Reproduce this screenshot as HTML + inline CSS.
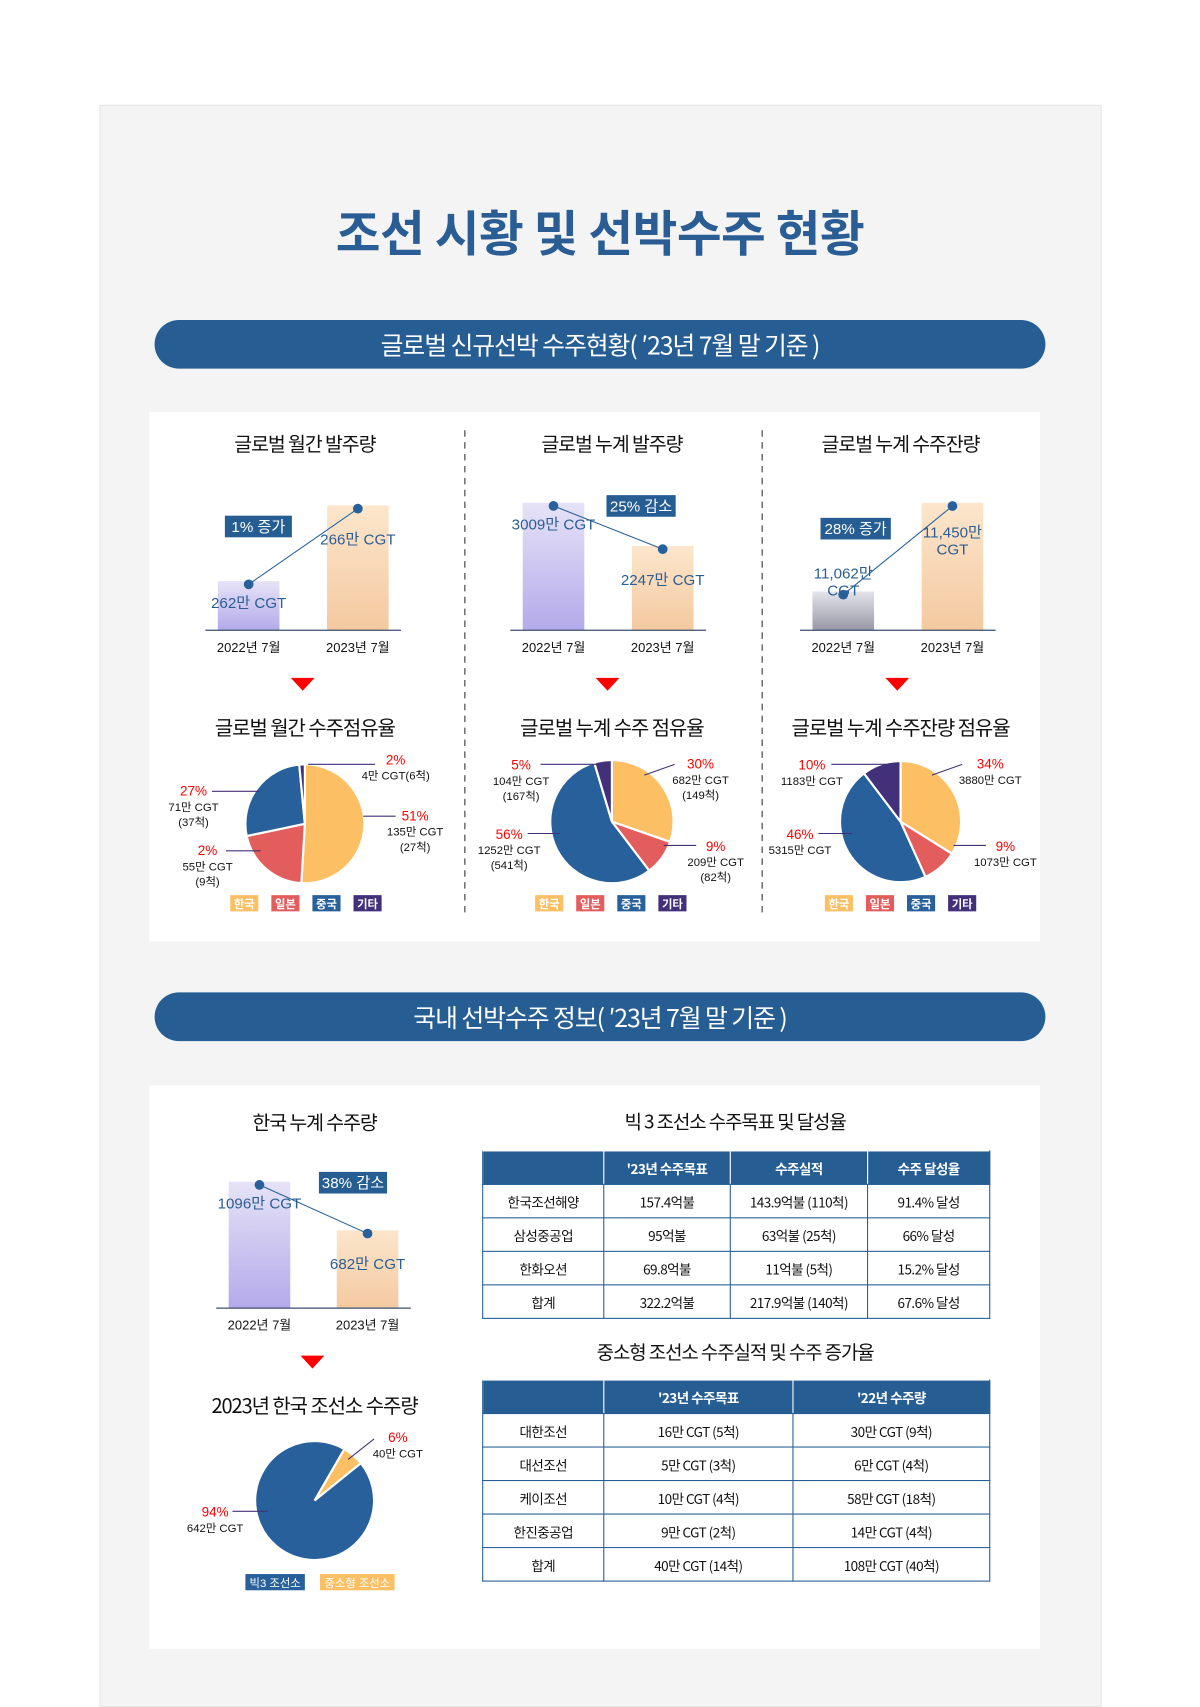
<!DOCTYPE html>
<html><head><meta charset="utf-8">
<style>
html,body{margin:0;padding:0;background:#fff;}
body{width:1200px;height:1695px;overflow:hidden;font-family:"Liberation Sans","Noto Sans CJK KR",sans-serif;}
#wrap{position:absolute;left:0;top:0;width:1110px;height:1568px;transform:scale(1.081081);transform-origin:0 0;}
.abs{position:absolute;}
.panel{left:92px;top:97px;width:925px;height:1480px;background:#f4f4f4;border:1px solid #e6e6e6;}
.title{left:0;width:1110px;top:180px;text-align:center;font-size:45px;font-weight:bold;color:#2a5d93;letter-spacing:-0.5px;font-family:"Noto Sans CJK KR",sans-serif;}
.banner{background:#265e94;border-radius:23px;color:#fff;text-align:center;font-size:23px;line-height:45px;height:45px;letter-spacing:-1px;font-family:"Noto Sans CJK KR",sans-serif;}
.card{background:#fff;}
.h{font-family:"Noto Sans CJK KR",sans-serif;color:#111;text-align:center;letter-spacing:-1px;}
table{border-collapse:collapse;font-family:"Noto Sans CJK KR",sans-serif;font-size:12.5px;letter-spacing:-0.5px;color:#111;table-layout:fixed;}
td,th{border:1px solid #265e94;text-align:center;padding:0;height:30px;}
th{background:#265e94;color:#fff;font-weight:bold;border-color:#fff #fff #265e94 #fff;}
th:first-child{border-left-color:#265e94;}
th:last-child{border-right-color:#265e94;}
svg text{font-family:"Liberation Sans","Noto Sans CJK KR",sans-serif;}
</style></head>
<body>
<div id="wrap">
<div class="abs panel"></div>
<div class="abs title">조선 시황 및 선박수주 현황</div>
<div class="abs banner" style="left:143px;top:296px;width:824px;">글로벌 신규선박 수주현황( ′23년 7월 말 기준 )</div>
<div class="abs card" style="left:138px;top:381px;width:824px;height:490px;"></div>
<div class="abs banner" style="left:143px;top:918px;width:824px;">국내 선박수주 정보( ′23년 7월 말 기준 )</div>
<div class="abs card" style="left:138px;top:1004px;width:824px;height:521px;"></div>

<div class="abs h" style="left:182px;width:200px;top:397px;font-size:18px;">글로벌 월간 발주량</div>
<div class="abs h" style="left:466px;width:200px;top:397px;font-size:18px;">글로벌 누계 발주량</div>
<div class="abs h" style="left:733px;width:200px;top:397px;font-size:18px;">글로벌 누계 수주잔량</div>
<div class="abs h" style="left:162px;width:240px;top:660px;font-size:18.5px;">글로벌 월간 수주점유율</div>
<div class="abs h" style="left:446px;width:240px;top:660px;font-size:18.5px;">글로벌 누계 수주 점유율</div>
<div class="abs h" style="left:703px;width:260px;top:660px;font-size:18.5px;">글로벌 누계 수주잔량 점유율</div>
<div class="abs h" style="left:191px;width:200px;top:1025px;font-size:18px;">한국 누계 수주량</div>
<div class="abs h" style="left:161px;width:260px;top:1287px;font-size:18.5px;">2023년 한국 조선소 수주량</div>
<div class="abs h" style="left:530px;width:300px;top:1025px;font-size:17.5px;">빅 3 조선소 수주목표 및 달성율</div>
<div class="abs h" style="left:500px;width:360px;top:1238px;font-size:17.5px;">중소형 조선소 수주실적 및 수주 증가율</div>

<table class="abs" style="left:446px;top:1064px;width:469px;">
<colgroup><col style="width:112px"><col style="width:117px"><col style="width:127px"><col style="width:113px"></colgroup>
<tr><th></th><th>'23년 수주목표</th><th>수주실적</th><th>수주 달성율</th></tr>
<tr><td>한국조선해양</td><td>157.4억불</td><td>143.9억불 (110척)</td><td>91.4% 달성</td></tr>
<tr><td>삼성중공업</td><td>95억불</td><td>63억불 (25척)</td><td>66% 달성</td></tr>
<tr><td>한화오션</td><td>69.8억불</td><td>11억불 (5척)</td><td>15.2% 달성</td></tr>
<tr><td>합계</td><td>322.2억불</td><td>217.9억불 (140척)</td><td>67.6% 달성</td></tr>
</table>
<table class="abs" style="left:446px;top:1276px;width:469px;">
<colgroup><col style="width:112px"><col style="width:175px"><col style="width:182px"></colgroup>
<tr><th></th><th>'23년 수주목표</th><th>'22년 수주량</th></tr>
<tr><td>대한조선</td><td>16만 CGT (5척)</td><td>30만 CGT (9척)</td></tr>
<tr><td>대선조선</td><td>5만 CGT (3척)</td><td>6만 CGT (4척)</td></tr>
<tr><td>케이조선</td><td>10만 CGT (4척)</td><td>58만 CGT (18척)</td></tr>
<tr><td>한진중공업</td><td>9만 CGT (2척)</td><td>14만 CGT (4척)</td></tr>
<tr><td>합계</td><td>40만 CGT (14척)</td><td>108만 CGT (40척)</td></tr>
</table>

<svg id="chart" class="abs" style="left:0;top:0" width="1110" height="1568">
<defs>
<linearGradient id="gP" x1="0" y1="0" x2="0" y2="1"><stop offset="0" stop-color="#e6e3f7"/><stop offset="1" stop-color="#b4aaea"/></linearGradient>
<linearGradient id="gO" x1="0" y1="0" x2="0" y2="1"><stop offset="0" stop-color="#fce6cc"/><stop offset="1" stop-color="#f4c9a0"/></linearGradient>
<linearGradient id="gG" x1="0" y1="0" x2="0" y2="1"><stop offset="0" stop-color="#e4e4ec"/><stop offset="1" stop-color="#9898a6"/></linearGradient>
</defs>
<line x1="430" y1="398" x2="430" y2="848" stroke="#333" stroke-dasharray="6,5"/>
<line x1="705" y1="398" x2="705" y2="848" stroke="#333" stroke-dasharray="6,5"/>
<g id="marks"></g>
</svg>
</div>
<script>
// bar chart data
const barCats = ["2022년 7월","2023년 7월"];
const monthlyOrders = [262, 266];
const cumulativeOrders = [3009, 2247];
const backlogOrders = [11062, 11450];
const koreaOrders = [1096, 682];
const monthlyLabels = ["262만 CGT","266만 CGT"];
const cumulativeLabels = ["3009만 CGT","2247만 CGT"];
const backlogLabels = ["11,062만|CGT","11,450만|CGT"];
const koreaLabels = ["1096만 CGT","682만 CGT"];
const badgeTexts = ["1% 증가","25% 감소","28% 증가","38% 감소"];
// pie data
const pieCats = ["한국","일본","중국","기타"];
const monthlyShare = [135, 55, 71, 4];
const cumulativeShare = [682, 209, 1252, 104];
const backlogShare = [3880, 1073, 5315, 1183];
const koreaCats = ["중소형 조선소","빅3 조선소"];
const koreaShare = [40, 642];

const NS="http://www.w3.org/2000/svg";
const G=document.getElementById('marks');
function el(t,a,txt){const e=document.createElementNS(NS,t);for(const k in a)e.setAttribute(k,a[k]);if(txt!=null)e.textContent=txt;G.appendChild(e);return e;}
const pieColors={"한국":"#fdbf63","일본":"#e35d5d","중국":"#27609a","기타":"#43307a","중소형 조선소":"#fdbf63","빅3 조선소":"#27609a"};

function barChart(o){
  const y=v=>o.base-(v-o.lo)*o.k;
  const fills=[o.f1,"url(#gO)"];
  const pts=[];
  o.vals.forEach((v,i)=>{
    const cx=o.cx[i];
    const r=el('rect',{x:cx-28.5,y:y(v),width:57,height:o.base-y(v),fill:fills[i]});
    
    
    pts.push([cx,y(v)+3]);
    const t=el('text',{x:cx,y:o.base+20,'text-anchor':'middle','font-size':12,fill:'#111'},barCats[i]);
    
    
  });
  const ax=el('line',{x1:o.cx[0]-40,x2:o.cx[1]+40,y1:o.base,y2:o.base,stroke:'#3c4f6e','stroke-width':1.2});
  
  
  const ln=el('line',{x1:pts[0][0],y1:pts[0][1],x2:pts[1][0],y2:pts[1][1],stroke:'#27609a','stroke-width':1});
  
  
  pts.forEach(p=>{const c=el('circle',{cx:p[0],cy:p[1],r:4.5,fill:'#27609a'});
    
    });
  o.labels.forEach((s,i)=>{
    const parts=s.split('|');
    const ly = parts.length>1 ? y(o.vals[i])+(i==0?-12:32) : (y(o.vals[i])+(i==0?25:36));
    parts.forEach((p,j)=>{const t=el('text',{x:o.cx[i],y:ly+j*16,'text-anchor':'middle','font-size':14,fill:'#2a5d93'},p);
      
      });
  });
  const b=el('rect',{x:o.badge[0],y:o.badge[1],width:o.badge[2],height:20,fill:'#265e94'});
  
  
  const bt=el('text',{x:o.badge[0]+o.badge[2]/2,y:o.badge[1]+15,'text-anchor':'middle','font-size':14,fill:'#fff'},o.btext);
  
  
}
barChart({name:'monthly',vals:monthlyOrders,labels:monthlyLabels,cx:[230,331],base:583,lo:259.4,k:17.5,f1:'url(#gP)',badge:[208,477,62],btext:badgeTexts[0]});
barChart({name:'cumulative',vals:cumulativeOrders,labels:cumulativeLabels,cx:[512,613],base:583,lo:761,k:0.0525,f1:'url(#gP)',badge:[561,458,64],btext:badgeTexts[1]});
barChart({name:'backlog',vals:backlogOrders,labels:backlogLabels,cx:[780,881],base:583,lo:10892,k:0.2113,f1:'url(#gG)',badge:[759,479,65],btext:badgeTexts[2]});
barChart({name:'korea',vals:koreaOrders,labels:koreaLabels,cx:[240,340],base:1210,lo:20,k:0.1087,f1:'url(#gP)',badge:[295,1084,63],btext:badgeTexts[3]});

function pie(o){
  const tot=o.vals.reduce((a,b)=>a+b,0);
  let a=o.start*Math.PI/180;
  o.vals.forEach((v,i)=>{
    const a2=a+v/tot*2*Math.PI;
    const x1=o.cx+o.r*Math.sin(a),y1=o.cy-o.r*Math.cos(a);
    const x2=o.cx+o.r*Math.sin(a2),y2=o.cy-o.r*Math.cos(a2);
    const large=(a2-a)>Math.PI?1:0;
    const p=el('path',{d:`M${o.cx},${o.cy}L${x1},${y1}A${o.r},${o.r} 0 ${large} 1 ${x2},${y2}Z`,fill:pieColors[o.cats[i]],stroke:'#fff','stroke-width':2});
    
    
    a=a2;
  });
}
pie({name:'monthly',cats:pieCats,vals:monthlyShare,cx:282,cy:762,r:55,start:0});
pie({name:'cumulative',cats:pieCats,vals:cumulativeShare,cx:566,cy:760,r:57,start:0});
pie({name:'backlog',cats:pieCats,vals:backlogShare,cx:833,cy:760,r:56,start:0});
pie({name:'korea',cats:koreaCats,vals:koreaShare,cx:291,cy:1388,r:55,start:30});

// pie annotations
const ann=[
 [366,707,"2%","4만 CGT(6척)",null,285,707,347,707],
 [179,736,"27%","71만 CGT","(37척)",196,732,240,732],
 [384,759,"51%","135만 CGT","(27척)",336,755,366,755],
 [192,791,"2%","55만 CGT","(9척)",209,787,241,787],
 [482,712,"5%","104만 CGT","(167척)",500,707,556,707],
 [648,711,"30%","682만 CGT","(149척)",624,707,596,717],
 [471,776,"56%","1252만 CGT","(541척)",488,771,518,771],
 [662,787,"9%","209만 CGT","(82척)",614,782,644,782],
 [751,712,"10%","1183만 CGT",null,769,707,826,707],
 [916,711,"34%","3880만 CGT",null,890,707,862,717],
 [740,776,"46%","5315만 CGT",null,757,771,788,771],
 [930,787,"9%","1073만 CGT",null,882,782,912,782],
 [368,1334,"6%","40만 CGT",null,346,1331,322,1350],
 [199,1403,"94%","642만 CGT",null,215,1398,248,1398]];
ann.forEach(d=>{
  const l=el('line',{x1:d[5],y1:d[6],x2:d[7],y2:d[8],stroke:'#43307a','stroke-width':1});
  
  
  const t=el('text',{x:d[0],y:d[1],'text-anchor':'middle','font-size':12.5,fill:'#f00'},d[2]);
  
  
  [d[3],d[4]].forEach((s,j)=>{if(!s)return;
    const u=el('text',{x:d[0],y:d[1]+14+j*14,'text-anchor':'middle','font-size':10.5,fill:'#111'},s);
    
    });
});
// legends
function legend(x0){
  pieCats.forEach((c,i)=>{
    const x=x0+i*38;
    const r=el('rect',{x:x,y:828,width:26,height:15,fill:pieColors[c]});
    
    
    const t=el('text',{x:x+13,y:840,'text-anchor':'middle','font-size':10.5,fill:'#fff','font-weight':'bold'},c);
    
    
  });
}
legend(213);legend(495);legend(763);
[[227,55,"빅3 조선소"],[296,69,"중소형 조선소"]].forEach((d,i)=>{
  const r=el('rect',{x:d[0],y:1456,width:d[1],height:15,fill:pieColors[koreaCats[1-i]]});
  
  
  const t=el('text',{x:d[0]+d[1]/2,y:1468,'text-anchor':'middle','font-size':10.5,fill:'#fff'},d[2]);
  
  
});
// red arrows
[[280,627],[562,627],[830,627],[289,1254]].forEach(p=>{
  const t=el('path',{d:`M${p[0]-11},${p[1]}L${p[0]+11},${p[1]}L${p[0]},${p[1]+12}Z`,fill:'#f00'});
  
  
});
</script>
</body></html>
